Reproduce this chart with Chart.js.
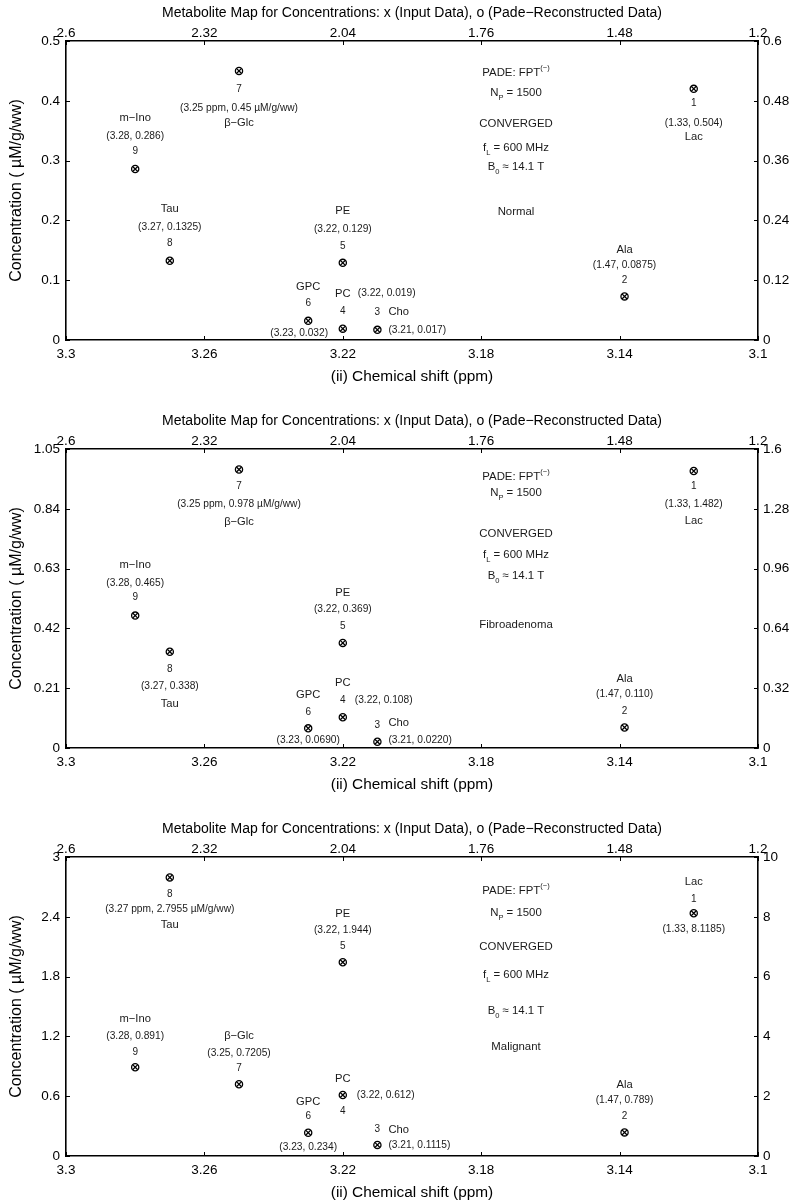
<!DOCTYPE html>
<html><head><meta charset="utf-8">
<script src="https://cdn.jsdelivr.net/npm/chart.js@4.4.0/dist/chart.umd.min.js"></script>
<style>
html,body{margin:0;padding:0;background:#fff;}
.panel{position:absolute;left:0;width:796px;}
canvas{display:block;}
</style></head><body>
<div class="panel" style="top:0;height:400px"><canvas id="c1" width="796" height="400"></canvas></div>
<div class="panel" style="top:408px;height:400px"><canvas id="c2" width="796" height="400"></canvas></div>
<div class="panel" style="top:816px;height:387px"><canvas id="c3" width="796" height="387"></canvas></div>
<script>
// ---------------- DATA ----------------
const chartTitle = 'Metabolite Map for Concentrations: x (Input Data), o (Pade\u2212Reconstructed Data)';
const xAxisTitle = '(ii) Chemical shift (ppm)';
const yAxisTitle = 'Concentration ( \u00b5M/g/ww)';

// metabolites plotted on bottom (ppm) / left (conc) axes
const leftNames   = ['Cho', 'PC', 'PE', 'GPC', '\u03b2\u2212Glc', 'Tau', 'm\u2212Ino'];
const leftNumbers = ['3', '4', '5', '6', '7', '8', '9'];
const leftShift   = [3.21, 3.22, 3.22, 3.23, 3.25, 3.27, 3.28];
// metabolites plotted on top (ppm) / right (conc) axes
const rightNames   = ['Lac', 'Ala'];
const rightNumbers = ['1', '2'];
const rightShift   = [1.33, 1.47];

const normalLeftConc  = [0.017, 0.019, 0.129, 0.032, 0.45, 0.1325, 0.286];
const normalRightConc = [0.504, 0.0875];
const normalLeftText  = ['(3.21, 0.017)', '(3.22, 0.019)', '(3.22, 0.129)', '(3.23, 0.032)', '(3.25 ppm, 0.45 \u00b5M/g/ww)', '(3.27, 0.1325)', '(3.28, 0.286)'];
const normalRightText = ['(1.33, 0.504)', '(1.47, 0.0875)'];

const fibroLeftConc  = [0.0220, 0.108, 0.369, 0.0690, 0.978, 0.338, 0.465];
const fibroRightConc = [1.482, 0.110];
const fibroLeftText  = ['(3.21, 0.0220)', '(3.22, 0.108)', '(3.22, 0.369)', '(3.23, 0.0690)', '(3.25 ppm, 0.978 \u00b5M/g/ww)', '(3.27, 0.338)', '(3.28, 0.465)'];
const fibroRightText = ['(1.33, 1.482)', '(1.47, 0.110)'];

const maligLeftConc  = [0.1115, 0.612, 1.944, 0.234, 0.7205, 2.7955, 0.891];
const maligRightConc = [8.1185, 0.789];
const maligLeftText  = ['(3.21, 0.1115)', '(3.22, 0.612)', '(3.22, 1.944)', '(3.23, 0.234)', '(3.25, 0.7205)', '(3.27 ppm, 2.7955 \u00b5M/g/ww)', '(3.28, 0.891)'];
const maligRightText = ['(1.33, 8.1185)', '(1.47, 0.789)'];

const bottomTicks = [3.3, 3.26, 3.22, 3.18, 3.14, 3.1];
const bottomTickLabels = ['3.3', '3.26', '3.22', '3.18', '3.14', '3.1'];
const topTicks = [2.6, 2.32, 2.04, 1.76, 1.48, 1.2];
const topTickLabels = ['2.6', '2.32', '2.04', '1.76', '1.48', '1.2'];

const normalLeftTicks  = [0, 0.1, 0.2, 0.3, 0.4, 0.5];
const normalLeftLabels = ['0', '0.1', '0.2', '0.3', '0.4', '0.5'];
const normalRightTicks  = [0, 0.12, 0.24, 0.36, 0.48, 0.6];
const normalRightLabels = ['0', '0.12', '0.24', '0.36', '0.48', '0.6'];
const fibroLeftTicks  = [0, 0.21, 0.42, 0.63, 0.84, 1.05];
const fibroLeftLabels = ['0', '0.21', '0.42', '0.63', '0.84', '1.05'];
const fibroRightTicks  = [0, 0.32, 0.64, 0.96, 1.28, 1.6];
const fibroRightLabels = ['0', '0.32', '0.64', '0.96', '1.28', '1.6'];
const maligLeftTicks  = [0, 0.6, 1.2, 1.8, 2.4, 3];
const maligLeftLabels = ['0', '0.6', '1.2', '1.8', '2.4', '3'];
const maligRightTicks  = [0, 2, 4, 6, 8, 10];
const maligRightLabels = ['0', '2', '4', '6', '8', '10'];

const tissueNames = ['Normal', 'Fibroadenoma', 'Malignant'];

// ---------------- STYLE / LAYOUT ----------------
const FONT = "'Liberation Sans', Arial, Helvetica, sans-serif";
const TEXT = '#1a1a1a';
const C = 'center', L = 'left';
// label offsets (px) relative to each marker: num, coord, name  -> [dx, dy, align]
const layoutNormal = {
  left: [
    {num:[0,-18,C], coord:[11,0,L],  name:[11,-18,L]},
    {num:[0,-17,C], coord:[15,-35,L], name:[0,-35,C]},
    {num:[0,-17,C], coord:[0,-34,C], name:[0,-52,C]},
    {num:[0,-18,C], coord:[-9,12,C], name:[0,-34,C]},
    {num:[0,18,C],  coord:[0,37,C],  name:[0,52,C]},
    {num:[0,-18,C], coord:[0,-34,C], name:[0,-52,C]},
    {num:[0,-18,C], coord:[0,-33,C], name:[0,-51,C]}
  ],
  right: [
    {num:[0,14,C],  coord:[0,34,C],  name:[0,48,C]},
    {num:[0,-16,C], coord:[0,-31,C], name:[0,-46,C]}
  ],
  info: [32, 52, 83, 107, 126, 171]
};
const layoutFibro = {
  left: [
    {num:[0,-16,C], coord:[11,-2,L],  name:[11,-19,L]},
    {num:[0,-17,C], coord:[12,-17,L], name:[0,-34,C]},
    {num:[0,-17,C], coord:[0,-34,C],  name:[0,-50,C]},
    {num:[0,-16,C], coord:[0,12,C],   name:[0,-33,C]},
    {num:[0,17,C],  coord:[0,35,C],   name:[0,52,C]},
    {num:[0,17,C],  coord:[0,34,C],   name:[0,52,C]},
    {num:[0,-18,C], coord:[0,-32,C],  name:[0,-51,C]}
  ],
  right: [
    {num:[0,15,C],  coord:[0,33,C],  name:[0,50,C]},
    {num:[0,-16,C], coord:[0,-33,C], name:[0,-49,C]}
  ],
  info: [28, 44, 85, 106, 127, 176]
};
const layoutMalig = {
  left: [
    {num:[0,-16,C], coord:[11,0,L],  name:[11,-15,L]},
    {num:[0,16,C],  coord:[14,0,L],  name:[0,-16,C]},
    {num:[0,-16,C], coord:[0,-32,C], name:[0,-48,C]},
    {num:[0,-16,C], coord:[0,15,C],  name:[0,-31,C]},
    {num:[0,-16,C], coord:[0,-31,C], name:[0,-48,C]},
    {num:[0,17,C],  coord:[0,32,C],  name:[0,48,C]},
    {num:[0,-15,C], coord:[0,-31,C], name:[0,-48,C]}
  ],
  right: [
    {num:[0,-14,C], coord:[0,16,C],  name:[0,-31,C]},
    {num:[0,-16,C], coord:[0,-32,C], name:[0,-47,C]}
  ],
  info: [34, 56, 90, 118, 154, 190]
};

const SZ_NAME = 11.2, SZ_NUM = 10, SZ_COORD = 10.2, SZ_INFO = 11.4;

function drawText(ctx, text, x, y, size, align) {
  ctx.font = size + 'px ' + FONT;
  ctx.textAlign = align;
  ctx.textBaseline = 'middle';
  ctx.fillText(text, x, y);
}
function drawRich(ctx, segs, cx, cy, size) {
  const small = size * 0.66;
  let total = 0;
  const ws = segs.map(s => { ctx.font = (s.sub || s.sup ? small : size) + 'px ' + FONT; const w = ctx.measureText(s.t).width; total += w; return w; });
  let x = cx - total / 2;
  ctx.textAlign = 'left'; ctx.textBaseline = 'middle';
  segs.forEach((s, i) => {
    ctx.font = (s.sub || s.sup ? small : size) + 'px ' + FONT;
    const dy = s.sub ? size * 0.42 : (s.sup ? -size * 0.42 : 0);
    ctx.fillText(s.t, x, cy + dy);
    x += ws[i];
  });
}

const annotationPlugin = {
  id: 'metaboliteLabels',
  afterDatasetsDraw(chart, args, opts) {
    const {ctx, chartArea, scales} = chart;
    const p = opts.panel;
    ctx.save();
    ctx.fillStyle = TEXT;
    const put = (sx, sy, xs, ys, nums, names, coords, lay) => {
      for (let i = 0; i < xs.length; i++) {
        const px = sx.getPixelForValue(xs[i]);
        const py = sy.getPixelForValue(ys[i]);
        const l = lay[i];
        drawText(ctx, nums[i], px + l.num[0], py + l.num[1], SZ_NUM, l.num[2]);
        drawText(ctx, coords[i], px + l.coord[0], py + l.coord[1], SZ_COORD, l.coord[2]);
        drawText(ctx, names[i], px + l.name[0], py + l.name[1], SZ_NAME, l.name[2]);
      }
    };
    put(scales.x, scales.y, leftShift, p.leftConc, leftNumbers, leftNames, p.leftText, p.layout.left);
    put(scales.x2, scales.y2, rightShift, p.rightConc, rightNumbers, rightNames, p.rightText, p.layout.right);
    // info block
    const cx = chartArea.left + 450;
    const t = chartArea.top;
    const inf = p.layout.info;
    drawRich(ctx, [{t:'PADE: FPT'}, {t:'(\u2212)', sup:true}], cx, t + inf[0], SZ_INFO);
    drawRich(ctx, [{t:'N'}, {t:'P', sub:true}, {t:' = 1500'}], cx, t + inf[1], SZ_INFO);
    drawRich(ctx, [{t:'CONVERGED'}], cx, t + inf[2], SZ_INFO);
    drawRich(ctx, [{t:'f'}, {t:'L', sub:true}, {t:' = 600 MHz'}], cx, t + inf[3], SZ_INFO);
    drawRich(ctx, [{t:'B'}, {t:'0', sub:true}, {t:' \u2248 14.1 T'}], cx, t + inf[4], SZ_INFO);
    drawRich(ctx, [{t:p.tissue}], cx, t + inf[5], SZ_INFO);
    // inward tick marks
    ctx.strokeStyle = '#000'; ctx.lineWidth = 1;
    const TL = 4;
    ctx.beginPath();
    scales.x.ticks.forEach(tk => { const x = Math.round(scales.x.getPixelForValue(tk.value)) + 0.5; ctx.moveTo(x, chartArea.bottom); ctx.lineTo(x, chartArea.bottom - TL); });
    scales.x2.ticks.forEach(tk => { const x = Math.round(scales.x2.getPixelForValue(tk.value)) + 0.5; ctx.moveTo(x, chartArea.top); ctx.lineTo(x, chartArea.top + TL); });
    scales.y.ticks.forEach(tk => { const y = Math.round(scales.y.getPixelForValue(tk.value)) + 0.5; ctx.moveTo(chartArea.left, y); ctx.lineTo(chartArea.left + TL, y); });
    scales.y2.ticks.forEach(tk => { const y = Math.round(scales.y2.getPixelForValue(tk.value)) + 0.5; ctx.moveTo(chartArea.right, y); ctx.lineTo(chartArea.right - TL, y); });
    ctx.stroke();
    ctx.restore();
  }
};

function pts(xs, ys) { return xs.map((x, i) => ({x: x, y: ys[i]})); }

function makeChart(id, canvasH, p) {
  const tickFont = {family: FONT, size: 13.5};
  const border = {display: true, color: '#000', width: 1.6};
  const grid = {display: false, drawTicks: false};
  const setTicks = vals => scale => { scale.ticks = vals.map(v => ({value: v})); };
  const markerBase = {showLine: false, pointRadius: 3.6, pointHoverRadius: 3.6, pointBorderColor: '#000', pointBackgroundColor: 'rgba(0,0,0,0)', pointBorderWidth: 1.3, borderColor: '#000', backgroundColor: 'rgba(0,0,0,0)'};
  const leftData = pts(leftShift, p.leftConc);
  const rightData = pts(rightShift, p.rightConc);
  return new Chart(document.getElementById(id), {
    type: 'scatter',
    data: {
      datasets: [
        Object.assign({label: 'x (Input Data)', data: leftData, xAxisID: 'x', yAxisID: 'y', pointStyle: 'crossRot'}, markerBase),
        Object.assign({label: 'o (Pade-Reconstructed Data)', data: leftData, xAxisID: 'x', yAxisID: 'y', pointStyle: 'circle'}, markerBase),
        Object.assign({label: 'x (Input Data) top', data: rightData, xAxisID: 'x2', yAxisID: 'y2', pointStyle: 'crossRot'}, markerBase),
        Object.assign({label: 'o (Pade-Reconstructed Data) top', data: rightData, xAxisID: 'x2', yAxisID: 'y2', pointStyle: 'circle'}, markerBase)
      ]
    },
    options: {
      responsive: false,
      animation: false,
      events: [],
      layout: {padding: {left: 0, right: 0, top: 0, bottom: canvasH - 340 - 46}},
      plugins: {
        legend: {display: false},
        tooltip: {enabled: false},
        title: {display: true, fullSize: false, text: chartTitle, color: '#000', font: {family: FONT, size: 14, weight: 'normal'}, padding: {top: 5, bottom: 0}},
        metaboliteLabels: {panel: p}
      },
      scales: {
        x: {
          type: 'linear', position: 'bottom', min: 3.1, max: 3.3, reverse: true,
          afterBuildTicks: setTicks(bottomTicks),
          afterFit: s => { s.height = 46; },
          ticks: {callback: (v, i) => bottomTickLabels[i], font: tickFont, color: '#000', padding: 6, maxRotation: 0, autoSkip: false},
          grid: grid, border: border,
          title: {display: true, text: xAxisTitle, color: '#000', font: {family: FONT, size: 15.4}, padding: {top: 0, bottom: 0}}
        },
        x2: {
          type: 'linear', position: 'top', min: 1.2, max: 2.6, reverse: true,
          afterBuildTicks: setTicks(topTicks),
          afterFit: s => { s.height = 19.2; },
          ticks: {callback: (v, i) => topTickLabels[i], font: tickFont, color: '#000', padding: 0, maxRotation: 0, autoSkip: false},
          grid: grid, border: border
        },
        y: {
          type: 'linear', position: 'left', min: p.leftTicks[0], max: p.leftTicks[p.leftTicks.length - 1],
          afterBuildTicks: setTicks(p.leftTicks),
          afterFit: s => { s.width = 66; },
          ticks: {callback: (v, i) => p.leftLabels[i], font: tickFont, color: '#000', padding: 6, autoSkip: false},
          grid: grid, border: border,
          title: {display: true, text: yAxisTitle, color: '#000', font: {family: FONT, size: 16}, padding: {top: 6.5, bottom: 0}}
        },
        y2: {
          type: 'linear', position: 'right', min: p.rightTicks[0], max: p.rightTicks[p.rightTicks.length - 1],
          afterBuildTicks: setTicks(p.rightTicks),
          afterFit: s => { s.width = 38; },
          ticks: {callback: (v, i) => p.rightLabels[i], font: tickFont, color: '#000', padding: 5, autoSkip: false},
          grid: grid, border: border
        }
      }
    },
    plugins: [annotationPlugin]
  });
}

makeChart('c1', 400, {leftConc: normalLeftConc, rightConc: normalRightConc, leftText: normalLeftText, rightText: normalRightText,
  leftTicks: normalLeftTicks, leftLabels: normalLeftLabels, rightTicks: normalRightTicks, rightLabels: normalRightLabels,
  tissue: tissueNames[0], layout: layoutNormal});
makeChart('c2', 400, {leftConc: fibroLeftConc, rightConc: fibroRightConc, leftText: fibroLeftText, rightText: fibroRightText,
  leftTicks: fibroLeftTicks, leftLabels: fibroLeftLabels, rightTicks: fibroRightTicks, rightLabels: fibroRightLabels,
  tissue: tissueNames[1], layout: layoutFibro});
makeChart('c3', 387, {leftConc: maligLeftConc, rightConc: maligRightConc, leftText: maligLeftText, rightText: maligRightText,
  leftTicks: maligLeftTicks, leftLabels: maligLeftLabels, rightTicks: maligRightTicks, rightLabels: maligRightLabels,
  tissue: tissueNames[2], layout: layoutMalig});
</script>
</body></html>
